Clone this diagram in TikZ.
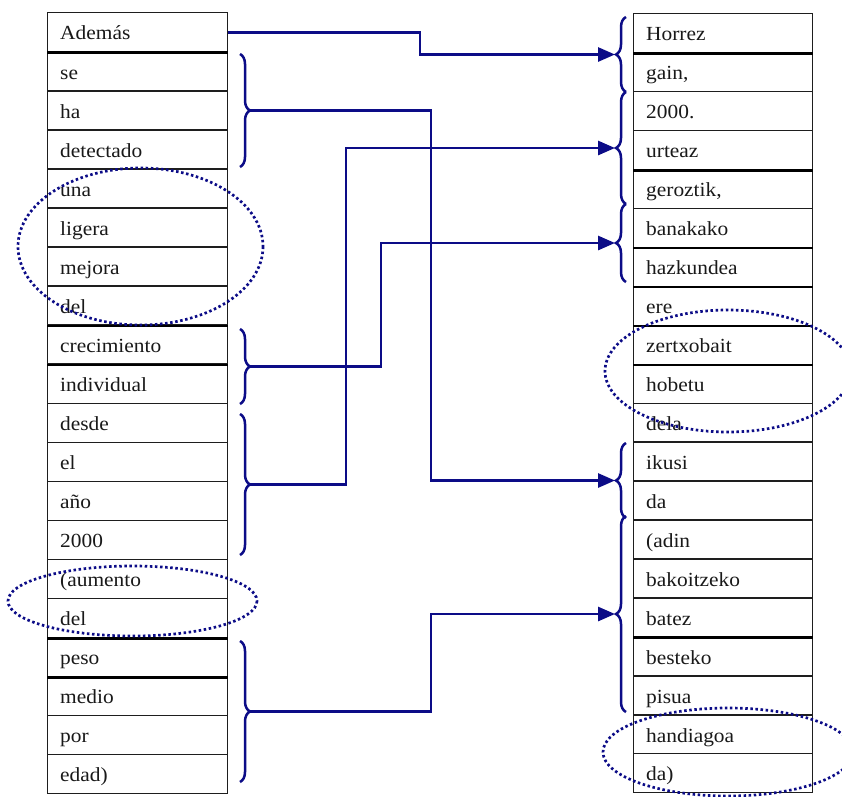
\documentclass[tikz,border=0pt]{standalone}
\usepackage{fontspec}
\setmainfont{Liberation Serif}[FakeStretch=1.07]
\usetikzlibrary{arrows.meta,decorations.pathreplacing}
\definecolor{navyc}{RGB}{12,12,135}
\definecolor{boxc}{RGB}{30,30,30}
\begin{document}
\begin{tikzpicture}[x=1pt,y=-1pt,
  wordbox/.style={draw=boxc, line width=1.4pt, rectangle, anchor=north west,
    minimum width=180pt, text width=155pt, inner xsep=12.5pt, inner ysep=0pt,
    align=left, text height=20.5pt, text depth=5pt,
    font=\fontsize{20}{24}\selectfont, text=black!90},
  leftbox/.style={wordbox, minimum height=39.05pt},
  rightbox/.style={wordbox, minimum width=179pt, text width=154pt, minimum height=38.95pt},
  boldsep/.style={draw=black, line width=2.6pt},
  bracebox/.style={decorate, decoration={brace, amplitude=10pt}, draw=navyc, line width=2.5pt},
  conn/.style={draw=navyc, line width=2.8pt, -{Triangle[length=17pt,width=14pt]}},
  dotell/.style={draw=navyc, line width=2.7pt, dash pattern=on 2.5pt off 2.6pt}
]
\useasboundingbox (0,0) rectangle (842,796);
\clip (0,0) rectangle (842,796);
\fill[white] (0,0) rectangle (842,796);

% left column
\foreach \w [count=\i] in {{Además},{se},{ha},{detectado},{una},{ligera},{mejora},{del},
  {crecimiento},{individual},{desde},{el},{año},{2000},{(aumento},{del},{peso},{medio},{por},{edad)}}
  \node[leftbox] (L\i) at (47,{12+(\i-1)*39.05}) {\w};

% right column
\foreach \w [count=\i] in {{Horrez},{gain,},{2000.},{urteaz},{geroztik,},{banakako},{hazkundea},{ere},
  {zertxobait},{hobetu},{dela},{ikusi},{da},{(adin},{bakoitzeko},{batez},{besteko},{pisua},{handiagoa},{da)}}
  \node[rightbox] (R\i) at (633,{13+(\i-1)*38.95}) {\w};

% heavier separators
\foreach \i in {1,8,9,16,17}
  \draw[boldsep] (L\i.south west) -- (L\i.south east);
\foreach \i in {1,4,6,7,8,9,16}
  \draw[boldsep] (R\i.south west) -- (R\i.south east);

% left braces (tips pointing right)
\draw[bracebox] (240,54) -- (240,167);
\draw[bracebox] (240,329) -- (240,404);
\draw[bracebox] (240,414) -- (240,555);
\draw[bracebox] (240,641) -- (240,782);
\coordinate (tl1) at (250,110.5);
\coordinate (tl2) at (250,366.5);
\coordinate (tl3) at (250,484.5);
\coordinate (tl4) at (250,711.5);

% right braces (tips pointing left)
\draw[bracebox] (626,92) -- (626,17);
\draw[bracebox] (626,204) -- (626,92);
\draw[bracebox] (626,282) -- (626,204);
\draw[bracebox] (626,518) -- (626,443);
\draw[bracebox] (626,712) -- (626,516);
\coordinate (tr1) at (615,54.5);
\coordinate (tr2) at (615,148);
\coordinate (tr3) at (615,243);
\coordinate (tr4) at (615,480.5);
\coordinate (tr5) at (615,614);

% connectors
\draw[conn] (L1.east) -| (420,54.5) -- (tr1);
\draw[conn] (tl1) -| (431,480.5) -- (tr4);
\draw[conn] (tl2) -| (381,243) -- (tr3);
\draw[conn] (tl3) -| (346,148) -- (tr2);
\draw[conn] (tl4) -| (431,614) -- (tr5);

% dotted ellipses
\draw[dotell] (140.5,246.5) ellipse [x radius=122.5, y radius=78.5];
\draw[dotell] (132.5,601) ellipse [x radius=124.5, y radius=35];
\draw[dotell] (728,371) ellipse [x radius=123, y radius=61];
\draw[dotell] (728,752) ellipse [x radius=125, y radius=44];
\end{tikzpicture}
\end{document}
